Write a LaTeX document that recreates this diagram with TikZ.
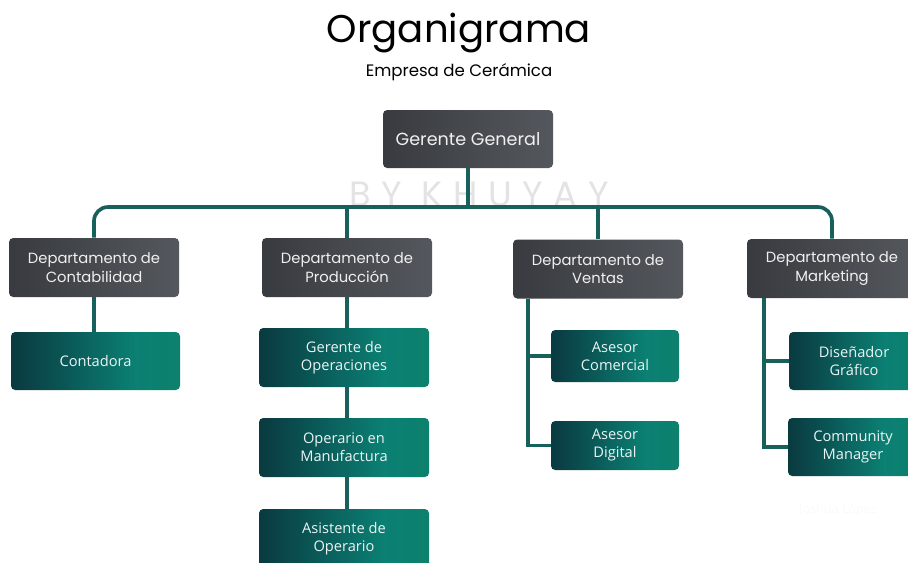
\documentclass[tikz,border=0pt]{standalone}
\usepackage{fontspec}
\setmainfont{Poppins}
\newfontfamily\boxfont{Open Sans}
\newfontfamily\wmfont[LetterSpace=30]{Poppins}
\usetikzlibrary{calc}
\definecolor{linkc}{HTML}{17605C}
\definecolor{dA}{HTML}{2A2C30}
\definecolor{dB}{HTML}{62666C}
\definecolor{gA}{HTML}{03171A}
\definecolor{gB}{HTML}{0A4247}
\definecolor{gC}{HTML}{0B8073}
\definecolor{gD}{HTML}{118260}
\pgfdeclarehorizontalshading{darkshade}{100bp}{color(0bp)=(dA); color(100bp)=(dB)}
\pgfdeclarehorizontalshading{greenshade}{100bp}{color(0bp)=(gA); color(30bp)=(gB); color(62bp)=(gC); color(100bp)=(gD)}
\begin{document}
\begin{tikzpicture}[x=0.025cm, y=-0.025cm,
    darkbox/.style={shading=darkshade, rounded corners=3pt, text=white!94!black, align=center, inner sep=0pt, font=\fontsize{10.5}{13}\selectfont},
    greenbox/.style={shading=greenshade, rounded corners=3pt, text=white!92!teal, align=center, inner sep=0pt, font=\boxfont\fontsize{10.4}{12.8}\selectfont},
    link/.style={draw=linkc, line width=2.6pt}]
    \useasboundingbox (0,0) rectangle (908,562);
    \node[font=\fontsize{27.5}{31}\selectfont] (title) at (459,33) {Organigrama};
    \node[font=\fontsize{11.8}{14}\selectfont] (sub) at (459,72) {Empresa de Cerámica};
    \node[text=gray!22, font=\wmfont\fontsize{25}{28}\selectfont] (wm) at (479,194) {BY KHUYAY};
    \node[text=gray!4, font=\boxfont\fontsize{9}{11}\selectfont] (sign) at (838,510) {Joshua López};
    \coordinate (bus) at (468,207);
    \node[darkbox, minimum width=170*0.025cm, minimum height=58*0.025cm, font=\fontsize{12.5}{15}\selectfont] (gg) at (468,139) {Gerente General};
    \node[darkbox, minimum width=170*0.025cm, minimum height=59*0.025cm] (cont) at (94,267.5) {Departamento de\\Contabilidad};
    \node[darkbox, minimum width=170*0.025cm, minimum height=59*0.025cm] (prod) at (347,267.5) {Departamento de\\Producción};
    \node[darkbox, minimum width=170*0.025cm, minimum height=59*0.025cm] (vent) at (598,269) {Departamento de\\Ventas};
    \node[darkbox, minimum width=170*0.025cm, minimum height=59*0.025cm] (mark) at (832,268.5) {Departamento de\\Marketing};
    \node[greenbox, minimum width=169*0.025cm, minimum height=58*0.025cm] (conta) at (95.5,361) {Contadora};
    \node[greenbox, minimum width=170*0.025cm, minimum height=59*0.025cm] (gop) at (344,357.5) {Gerente de\\Operaciones};
    \node[greenbox, minimum width=170*0.025cm, minimum height=59*0.025cm] (opm) at (344,447.5) {Operario en\\Manufactura};
    \node[greenbox, minimum width=170*0.025cm, minimum height=59*0.025cm] (asis) at (344,538.5) {Asistente de\\Operario};
    \node[greenbox, minimum width=128*0.025cm, minimum height=52*0.025cm] (acom) at (615,356) {Asesor\\Comercial};
    \node[greenbox, minimum width=128*0.025cm, minimum height=49*0.025cm] (adig) at (615,445.5) {Asesor\\Digital};
    \node[greenbox, minimum width=130*0.025cm, minimum height=58*0.025cm] (dis) at (854,361) {Diseñador\\Gráfico};
    \node[greenbox, minimum width=130*0.025cm, minimum height=58*0.025cm] (com) at (853,447) {Community\\Manager};
    \draw[link] (gg.south) -- (bus);
    \draw[link, rounded corners=10pt] (cont.north) |- (bus) -| (mark.north);
    \draw[link] (prod.north) -- (prod.north |- bus);
    \draw[link] (vent.north) -- (vent.north |- bus);
    \draw[link] (cont.south) -- (cont.south |- conta.north);
    \draw[link] (prod.south) -- (prod.south |- gop.north);
    \draw[link] (prod.south |- gop.south) -- (prod.south |- opm.north);
    \draw[link] (prod.south |- opm.south) -- (prod.south |- asis.north);
    \draw[link] ($(vent.south west)+(15,0)$) |- (acom.west);
    \draw[link] ($(vent.south west)+(15,0)$) |- (adig.west);
    \draw[link] ($(mark.south west)+(17,0)$) |- (dis.west);
    \draw[link] ($(mark.south west)+(17,0)$) |- (com.west);
\end{tikzpicture}
\end{document}
